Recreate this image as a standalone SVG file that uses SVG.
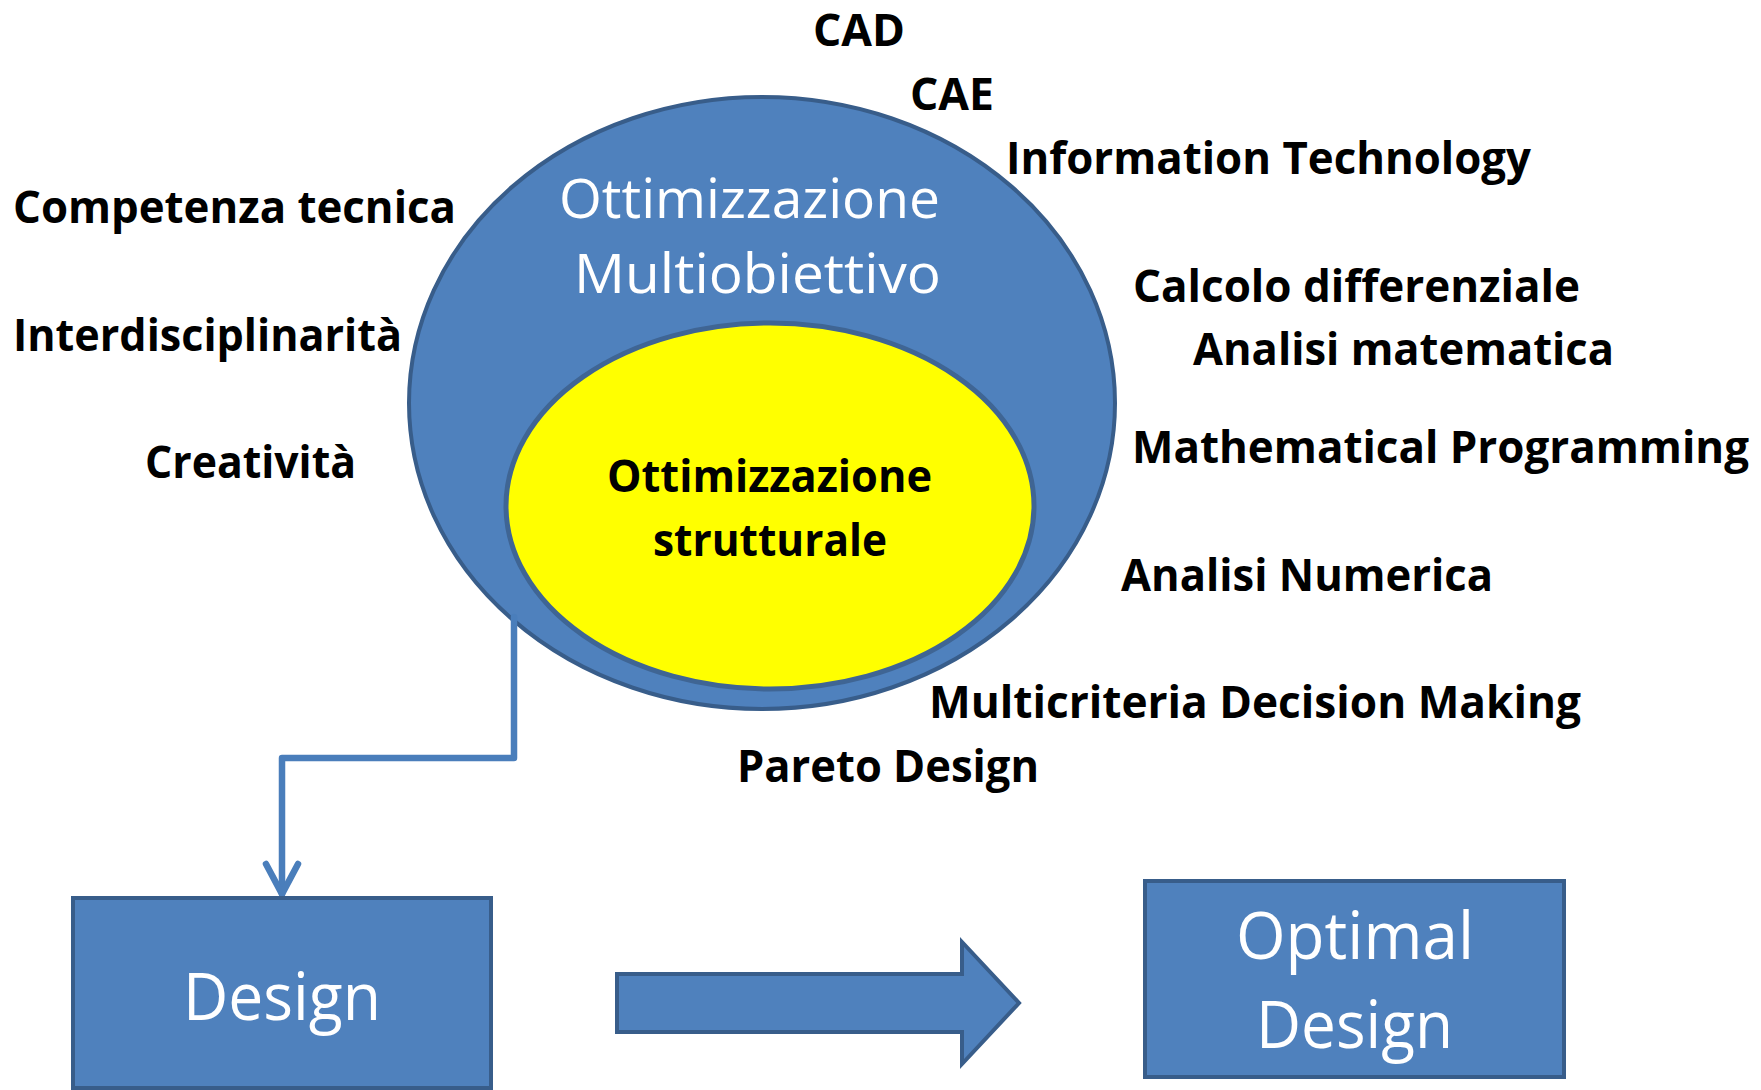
<svg xmlns="http://www.w3.org/2000/svg" width="1761" height="1090" viewBox="0 0 1761 1090">
<style>
.shape{fill:#4f81bd;stroke:#385d8a;stroke-width:4}
.lbl{font-family:"Open Sans","Noto Sans","Liberation Sans",sans-serif;font-weight:700;font-size:44px;fill:#000}
.wt{font-family:"Open Sans","Noto Sans","Liberation Sans",sans-serif;font-size:55px;fill:#fff}
.box{font-family:"Open Sans","Noto Sans","Liberation Sans",sans-serif;font-size:66px;fill:#fff}
.inner{font-family:"Open Sans","Noto Sans","Liberation Sans",sans-serif;font-weight:700;font-size:45px;fill:#000}
.conn{fill:none;stroke:#4a7ebb;stroke-width:6.5;stroke-linejoin:round;stroke-linecap:round}
</style>
<defs>
<marker id="openArrow" markerUnits="userSpaceOnUse" viewBox="-40 -22 46 44" markerWidth="46" markerHeight="44" refX="0" refY="0" orient="auto" overflow="visible">
<path d="M-30,-16 L0,0 L-30,16" fill="none" stroke="#4a7ebb" stroke-width="6.5" stroke-linecap="round" stroke-linejoin="miter"/>
</marker>
</defs>
<rect width="1761" height="1090" fill="#fff"/>
<g id="outer-ellipse">
<ellipse class="shape" cx="762" cy="403" rx="353" ry="306"/>
<text class="wt" x="559" y="218" textLength="381" lengthAdjust="spacingAndGlyphs">Ottimizzazione</text>
<text class="wt" x="574" y="293" textLength="367" lengthAdjust="spacingAndGlyphs">Multiobiettivo</text>
</g>
<g id="inner-ellipse">
<ellipse cx="770" cy="506" rx="264" ry="183" fill="#ffff00" stroke="#3f6594" stroke-width="5"/>
<text class="inner" x="607" y="492" textLength="325" lengthAdjust="spacingAndGlyphs">Ottimizzazione</text>
<text class="inner" x="653" y="556" textLength="234" lengthAdjust="spacingAndGlyphs">strutturale</text>
</g>
<g id="labels">
<text class="lbl" x="813" y="46" textLength="92" lengthAdjust="spacingAndGlyphs">CAD</text>
<text class="lbl" x="910" y="110" textLength="84" lengthAdjust="spacingAndGlyphs">CAE</text>
<text class="lbl" x="1006" y="174" textLength="525" lengthAdjust="spacingAndGlyphs">Information Technology</text>
<text class="lbl" x="13" y="223" textLength="443" lengthAdjust="spacingAndGlyphs">Competenza tecnica</text>
<text class="lbl" x="1133" y="302" textLength="447" lengthAdjust="spacingAndGlyphs">Calcolo differenziale</text>
<text class="lbl" x="1193" y="365" textLength="421" lengthAdjust="spacingAndGlyphs">Analisi matematica</text>
<text class="lbl" x="13" y="351" textLength="389" lengthAdjust="spacingAndGlyphs">Interdisciplinarità</text>
<text class="lbl" x="145" y="478" textLength="211" lengthAdjust="spacingAndGlyphs">Creatività</text>
<text class="lbl" x="1132" y="463" textLength="617" lengthAdjust="spacingAndGlyphs">Mathematical Programming</text>
<text class="lbl" x="1121" y="591" textLength="372" lengthAdjust="spacingAndGlyphs">Analisi Numerica</text>
<text class="lbl" x="929" y="718" textLength="652" lengthAdjust="spacingAndGlyphs">Multicriteria Decision Making</text>
<text class="lbl" x="737" y="782" textLength="302" lengthAdjust="spacingAndGlyphs">Pareto Design</text>
</g>
<g id="connectors">
<path class="conn" d="M514,617 L514,758 L282,758 L282,894" marker-end="url(#openArrow)"/>
</g>
<g id="design">
<rect class="shape" x="73" y="898" width="418" height="190"/>
<text class="box" x="183" y="1020" textLength="198" lengthAdjust="spacingAndGlyphs">Design</text>
</g>
<g id="big-arrow">
<path class="shape" d="M617,974 L962,974 L962,942 L1019,1003 L962,1064 L962,1032 L617,1032 Z"/>
</g>
<g id="optimal-design">
<rect class="shape" x="1145" y="881" width="419" height="196"/>
<text class="box" x="1236" y="959" textLength="238" lengthAdjust="spacingAndGlyphs">Optimal</text>
<text class="box" x="1256" y="1048" textLength="197" lengthAdjust="spacingAndGlyphs">Design</text>
</g>
</svg>
